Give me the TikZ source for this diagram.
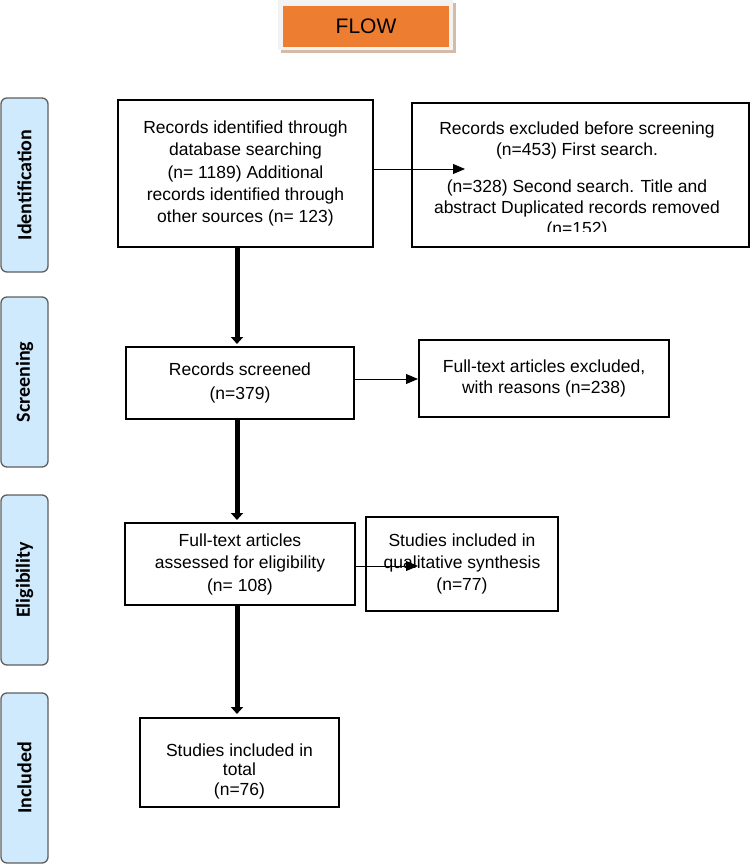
\documentclass[tikz,border=0pt]{standalone}
\usepackage{fontspec}
\setmainfont{Liberation Sans}
\newfontfamily\sidefont{Carlito}
\usetikzlibrary{arrows.meta}
\definecolor{floworange}{RGB}{237,125,49}
\definecolor{hdrgray}{RGB}{243,243,243}
\definecolor{shadowtan}{RGB}{214,186,165}
\definecolor{sideblue}{RGB}{207,234,252}
\definecolor{sidegray}{RGB}{95,95,95}
\begin{document}
\begin{tikzpicture}[x=1pt,y=-1pt,
  box/.style={draw=black, line width=1.2pt, fill=white, inner sep=0pt, align=center},
  bodytext/.style={inner sep=0pt, align=center, font=\fontsize{17.5}{#1}\selectfont},
  bodytext/.default=22.3,
  side/.style={draw=sidegray, line width=1.3pt, fill=sideblue, rounded corners=6pt,
    rotate=90, minimum height=47pt, inner sep=0pt,
    font=\sidefont\bfseries\fontsize{20}{20}\selectfont},
  thinarrow/.style={line width=0.9pt, -{Triangle[length=12pt,width=10pt]}},
  thickarrow/.style={line width=5pt, -{Triangle[length=7pt,width=12pt]}}
]
\useasboundingbox (0,0) rectangle (750,865);

% header
\fill[shadowtan] (281,3) rectangle (456,53);
\fill[hdrgray] (278,0) rectangle (453,50);
\node[fill=floworange, minimum width=166pt, minimum height=41pt, inner sep=0pt,
  font=\fontsize{21}{21}\selectfont] (flow) at (366,26.5) {FLOW};

% side labels
\node[side, minimum width=174pt] (sid) at (24.5,185) {Identification};
\node[side, minimum width=170pt] (ssc) at (24.5,382) {Screening};
\node[side, minimum width=170pt] (sel) at (24.5,580) {Eligibility};
\node[side, minimum width=170pt] (sin) at (24.5,778) {Included};

% main boxes
\node[box, minimum width=255pt, minimum height=147pt, bodytext] (ident) at (245.5,173.5)
  {Records identified through\\database searching\\(n= 1189) Additional\\records identified through\\other sources (n= 123)};
\node[box, minimum width=337pt, minimum height=144pt] (excl1) at (580.5,175) {};
\begin{scope}
  \clip (412,103) rectangle (749,231);
  \node[bodytext=21, anchor=north] (excl1txt) at (577,121.5)
    {Records excluded before screening\\(n=453) First search.\\[16pt](n=328) Second search. Title and\\abstract Duplicated records removed\\(n=152)};
\end{scope}

\node[box, minimum width=228pt, minimum height=72pt, bodytext=23.5] (scr) at (240,383)
  {Records screened\\(n=379)};
\node[box, minimum width=250pt, minimum height=77pt, bodytext=21] (excl2) at (544,378.5)
  {Full-text articles excluded,\\with reasons (n=238)};

\node[box, minimum width=230pt, minimum height=82pt, bodytext=22.5] (elig) at (240,564)
  {Full-text articles\\assessed for eligibility\\(n= 108)};
\node[box, minimum width=192pt, minimum height=94pt, bodytext=22] (qual) at (462,564)
  {Studies included in\\qualitative synthesis\\(n=77)};

\node[box, minimum width=199pt, minimum height=89pt] (incl) at (239.5,762.5) {};
\node[bodytext=19.5] (incltxt) at (239.5,771) {Studies included in\\total\\(n=76)};

% connectors
\coordinate (t1) at (465,169);
\draw[thinarrow] (ident.east |- t1) -- (t1);
\coordinate (t2) at (237,344);
\draw[thickarrow] (ident.south -| t2) -- (t2);
\coordinate (t3) at (418,379);
\draw[thinarrow] (scr.east |- t3) -- (t3);
\coordinate (t4) at (237,520);
\draw[thickarrow] (scr.south -| t4) -- (t4);
\coordinate (t5) at (418,566);
\draw[thinarrow] (elig.east |- t5) -- (t5);
\coordinate (t6) at (237,714);
\draw[thickarrow] (elig.south -| t6) -- (t6);
\end{tikzpicture}
\end{document}
